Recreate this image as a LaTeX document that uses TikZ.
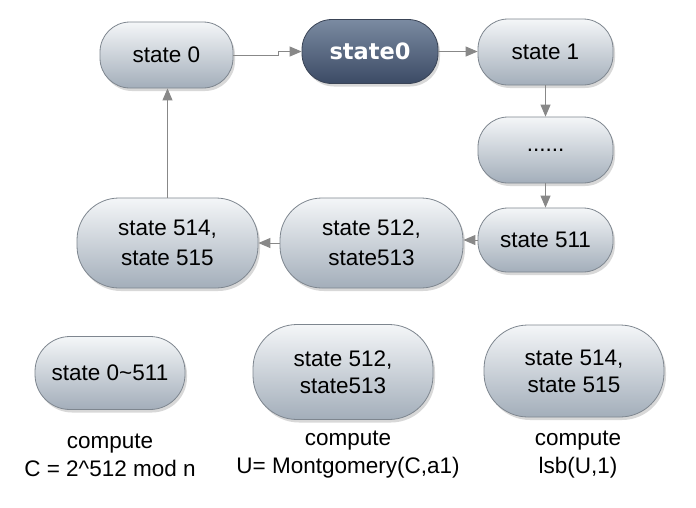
\documentclass[tikz,border=0pt]{standalone}
\usepackage{fontspec}
\setmainfont{Liberation Sans}
\newfontfamily\boldfam{DejaVu Sans}
\usetikzlibrary{arrows.meta,shadows}
\definecolor{nodetop}{HTML}{F4F6F8}
\definecolor{nodebot}{HTML}{A3AEBA}
\definecolor{nodeborder}{HTML}{7E868F}
\definecolor{darktop}{HTML}{7A8AA1}
\definecolor{darkbot}{HTML}{3C4B65}
\definecolor{darkborder}{HTML}{3A4456}
\definecolor{arrowgray}{HTML}{888888}
\begin{document}
\begin{tikzpicture}[x=1pt,y=-1pt,
  stnode/.style={draw=nodeborder, line width=0.8pt, top color=nodetop, bottom color=nodebot,
    inner sep=0pt, align=center, font=\fontsize{22.5}{30}\selectfont,
    drop shadow={opacity=0.3, shadow xshift=2pt, shadow yshift=-3pt}},
  darknode/.style={draw=darkborder, line width=0.8pt, top color=darktop, bottom color=darkbot,
    inner sep=0pt, align=center, text=white, font=\boldfam\bfseries\fontsize{22.5}{28}\selectfont,
    drop shadow={opacity=0.3, shadow xshift=2pt, shadow yshift=-3pt}},
  lbl/.style={align=center, inner sep=0pt, font=\fontsize{22.5}{28}\selectfont},
  arr/.style={draw=arrowgray, line width=1pt, -{Triangle[length=12pt,width=10pt]}}]
\useasboundingbox (0,0) rectangle (696,507);
\fill[white] (0,0) rectangle (696,507);

% top loop
\node[stnode, minimum width=133pt, minimum height=66pt, rounded corners=30pt] (s0) at (166.5,55) {state 0};
\node[darknode, minimum width=136pt, minimum height=64pt, rounded corners=30pt] (st0) at (370,51.5) {state0};
\node[stnode, minimum width=135pt, minimum height=66pt, rounded corners=30pt] (s1) at (545.5,52) {state 1};
\node[stnode, minimum width=135pt, minimum height=66pt, rounded corners=30pt] (dots) at (545.5,150) {......};
\node[stnode, minimum width=135pt, minimum height=64pt, rounded corners=30pt] (s511) at (545.5,240) {state 511};
\node[stnode, minimum width=183pt, minimum height=90pt, rounded corners=42pt] (s512) at (371.5,243) {state 512,\\state513};
\node[stnode, minimum width=181pt, minimum height=90pt, rounded corners=42pt] (s514) at (167.5,243) {state 514,\\state 515};

% legend
\node[stnode, minimum width=150pt, minimum height=73pt, rounded corners=35pt] (b0) at (110,373) {state 0\textasciitilde511};
\node[stnode, minimum width=180pt, minimum height=95pt, rounded corners=44pt, font=\fontsize{22.5}{27}\selectfont] (b512) at (343,372) {state 512,\\state513};
\node[stnode, minimum width=180pt, minimum height=92pt, rounded corners=44pt, font=\fontsize{22.5}{27}\selectfont] (b514) at (574,371) {state 514,\\state 515};

\node[lbl] (l0) at (110,455) {compute\\C = 2\textasciicircum512 mod n};
\node[lbl] (l1) at (348,455) {compute\\U= Montgomery(C,a1)};
\node[lbl] (l2) at (578,455) {compute\\lsb(U,1)};

% connectors
\coordinate (jog) at (278,55);
\draw[arr] (s0.east) -- (s0.east -| jog) |- (st0.west);
\draw[arr] (st0.east) -- (st0.east -| s1.west);
\draw[arr] (s1.south) -- (dots.north);
\draw[arr] (dots.south) -- (s511.north);
\draw[arr] (s511.west) -- (s511.west -| s512.east);
\draw[arr] (s512.west) -- (s512.west -| s514.east);
\draw[arr] (s514.north) -- (s514.north |- s0.south);
\end{tikzpicture}
\end{document}
